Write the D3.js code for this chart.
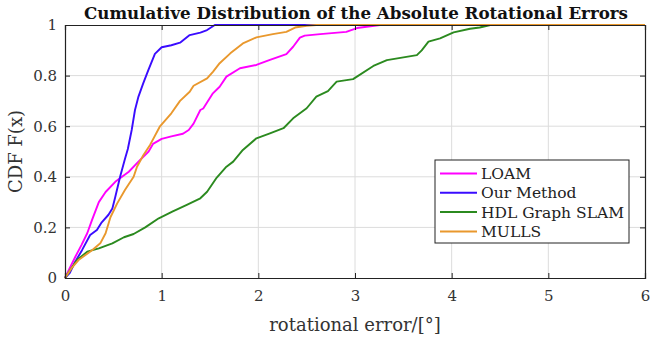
<!DOCTYPE html>
<html>
<head>
<meta charset="utf-8">
<script src="https://cdn.jsdelivr.net/npm/d3@7"></script>
<style>
  body { margin: 0; background: #fff; }
  svg text { font-family: "DejaVu Serif", serif !important; }
</style>
</head>
<body>
<div id="chart"></div>
<script>
// CDF curves, [rotational error, F(x)]
var loam = [[0,0],[0.05,0.04],[0.107,0.084],[0.17,0.13],[0.23,0.177],[0.28,0.23],[0.35,0.30],[0.42,0.34],[0.52,0.38],[0.66,0.42],[0.76,0.46],[0.865,0.50],[0.91,0.53],[1.0,0.55],[1.1,0.56],[1.22,0.57],[1.28,0.585],[1.33,0.61],[1.4,0.664],[1.43,0.67],[1.53,0.73],[1.60,0.756],[1.67,0.796],[1.81,0.829],[1.98,0.842],[2.12,0.862],[2.29,0.885],[2.36,0.914],[2.43,0.95],[2.48,0.958],[2.64,0.964],[2.91,0.973],[3.02,0.988],[3.26,1.0],[6,1]];
var ourMethod = [[0,0],[0.05,0.02],[0.1,0.06],[0.176,0.11],[0.26,0.17],[0.33,0.19],[0.38,0.22],[0.45,0.25],[0.49,0.275],[0.52,0.32],[0.57,0.40],[0.62,0.47],[0.65,0.51],[0.69,0.585],[0.724,0.664],[0.76,0.717],[0.81,0.77],[0.86,0.82],[0.93,0.886],[1.0,0.912],[1.1,0.92],[1.19,0.93],[1.29,0.96],[1.40,0.97],[1.47,0.98],[1.55,1.0],[6,1]];
var hdl = [[0,0],[0.06,0.035],[0.124,0.071],[0.23,0.104],[0.35,0.117],[0.49,0.137],[0.61,0.161],[0.71,0.174],[0.83,0.20],[0.97,0.236],[1.11,0.262],[1.26,0.289],[1.40,0.315],[1.47,0.341],[1.57,0.397],[1.67,0.44],[1.74,0.46],[1.84,0.506],[1.98,0.552],[2.12,0.572],[2.26,0.592],[2.36,0.631],[2.50,0.671],[2.60,0.717],[2.72,0.739],[2.81,0.776],[2.98,0.786],[3.19,0.838],[3.33,0.861],[3.64,0.881],[3.69,0.90],[3.76,0.934],[3.88,0.947],[4.02,0.971],[4.19,0.985],[4.29,0.99],[4.40,1.0],[6,1]];
var mulls = [[0,0],[0.07,0.04],[0.14,0.071],[0.28,0.11],[0.365,0.137],[0.42,0.177],[0.47,0.24],[0.54,0.295],[0.62,0.348],[0.71,0.40],[0.745,0.44],[0.81,0.485],[0.88,0.526],[0.98,0.598],[1.10,0.651],[1.19,0.70],[1.29,0.736],[1.33,0.76],[1.47,0.789],[1.53,0.815],[1.60,0.849],[1.71,0.888],[1.84,0.927],[1.98,0.951],[2.15,0.964],[2.29,0.973],[2.38,0.99],[2.50,0.997],[2.6,1.0],[6,1]];

var seriesNames = ["LOAM", "Our Method", "HDL Graph SLAM", "MULLS"];
var seriesColors = ["#ff00ff", "#3a0cff", "#2b8a1f", "#e9982d"];
var xTicks = [0, 1, 2, 3, 4, 5, 6];
var yTicks = [0, 0.2, 0.4, 0.6, 0.8, 1];

var width = 661, height = 338;
var margin = { left: 65, right: 16, top: 25, bottom: 60 };
var plotW = width - margin.left - margin.right,
    plotH = height - margin.top - margin.bottom;

var svg = d3.select("#chart").append("svg")
    .attr("width", width)
    .attr("height", height);

var x = d3.scaleLinear().domain([0, 6]).range([margin.left, margin.left + plotW]);
var y = d3.scaleLinear().domain([0, 1]).range([margin.top + plotH, margin.top]);

// grid
svg.append("g").selectAll("line.gx")
  .data(xTicks.slice(1, -1)).enter().append("line")
    .attr("x1", function(d) { return x(d); }).attr("x2", function(d) { return x(d); })
    .attr("y1", y(0)).attr("y2", y(1))
    .attr("stroke", "#dcdcdc").attr("stroke-width", 1);
svg.append("g").selectAll("line.gy")
  .data(yTicks.slice(1, -1)).enter().append("line")
    .attr("y1", function(d) { return y(d); }).attr("y2", function(d) { return y(d); })
    .attr("x1", x(0)).attr("x2", x(6))
    .attr("stroke", "#dcdcdc").attr("stroke-width", 1);

// curves
var line = d3.line()
  .x(function(d) { return x(d[0]); })
  .y(function(d) { return y(d[1]); });

var allSeries = [loam, ourMethod, hdl, mulls];
svg.append("g").selectAll("path")
  .data(allSeries).enter().append("path")
    .attr("d", line)
    .attr("fill", "none")
    .attr("stroke", function(d, i) { return seriesColors[i]; })
    .attr("stroke-width", 1.9)
    .attr("stroke-linejoin", "round");

// axes (ticks inward on all four sides)
var xAxis = d3.axisBottom(x).tickValues(xTicks).tickSize(-5).tickPadding(12).tickFormat(d3.format("d"));
var yAxis = d3.axisLeft(y).tickValues(yTicks).tickSize(-5).tickPadding(8).tickFormat(function(d) { return d3.format("~g")(d); });

svg.append("g").attr("transform", "translate(0," + y(0) + ")").call(xAxis);
svg.append("g").attr("transform", "translate(" + x(0) + ",0)").call(yAxis);
svg.append("g").attr("transform", "translate(0," + y(1) + ")")
  .call(d3.axisTop(x).tickValues(xTicks).tickSize(-5).tickFormat(""));
svg.append("g").attr("transform", "translate(" + x(6) + ",0)")
  .call(d3.axisRight(y).tickValues(yTicks).tickSize(-5).tickFormat(""));

svg.selectAll(".domain").attr("stroke", "#222").attr("stroke-width", 1.2);
svg.selectAll(".tick line").attr("stroke", "#222");
svg.selectAll(".tick text")
  .style("font-size", "15px")
  .attr("fill", "#333");

// title
svg.append("text")
  .attr("x", 356).attr("y", 19)
  .attr("text-anchor", "middle")
  .style("font-size", "16px")
  .style("font-weight", "bold")
  .attr("textLength", 544)
  .attr("lengthAdjust", "spacingAndGlyphs")
  .attr("fill", "#111")
  .text("Cumulative Distribution of the Absolute Rotational Errors");

// axis labels
svg.append("text")
  .attr("x", 355).attr("y", 331)
  .attr("text-anchor", "middle")
  .style("font-size", "18px")
  .attr("fill", "#333")
  .text("rotational error/[°]");

svg.append("text")
  .attr("transform", "translate(22," + (margin.top + plotH / 2) + ") rotate(-90)")
  .attr("text-anchor", "middle")
  .style("font-size", "18px")
  .attr("fill", "#333")
  .text("CDF F(x)");

// legend
var legend = svg.append("g").attr("transform", "translate(435,160)");
legend.append("rect")
  .attr("width", 194).attr("height", 83)
  .attr("fill", "#fff").attr("stroke", "#222").attr("stroke-width", 1);
var items = legend.selectAll("g.item")
  .data(seriesNames).enter().append("g")
    .attr("transform", function(d, i) { return "translate(0," + (13.5 + i * 19.3) + ")"; });
items.append("line")
  .attr("x1", 5).attr("x2", 42)
  .attr("stroke", function(d, i) { return seriesColors[i]; })
  .attr("stroke-width", 2);
items.append("text")
  .attr("x", 46).attr("dy", "0.35em")
  .style("font-size", "15.5px")
  .attr("fill", "#222")
  .text(function(d) { return d; });
</script>
</body>
</html>
